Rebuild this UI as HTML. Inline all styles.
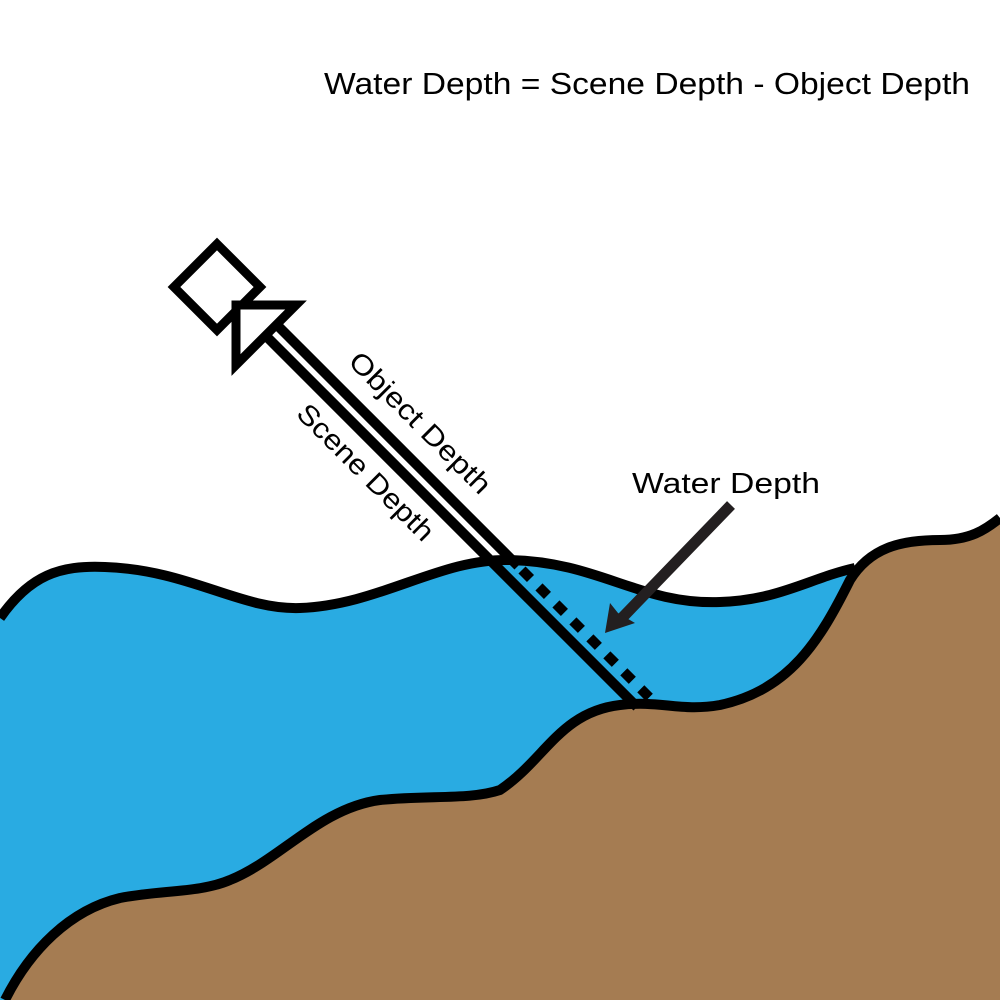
<!DOCTYPE html>
<html><head><style>html,body{margin:0;padding:0;background:#fff}svg{display:block}</style></head>
<body>
<svg width="1000" height="1000" viewBox="0 0 1000 1000" xmlns="http://www.w3.org/2000/svg">
<path d="M0,618 C30,575 60,565 105,567 C190,570 240,610 300,608 C380,605 440,558 510,560 C600,562 640,605 720,602 C780,600 810,578 855,568 L850,580 C820,640 790,690 720,705 C680,712 660,700 620,705 C560,712 545,760 500,790 C470,800 430,795 380,800 C320,808 280,860 230,880 C200,893 160,890 120,898 C70,910 30,950 5,1000 L0,1000 Z" fill="#29abe2"/>
<path d="M5,1000 C30,950 70,910 120,898 C160,890 200,893 230,880 C280,860 320,808 380,800 C430,795 470,800 500,790 C545,760 560,712 620,705 C660,700 680,712 720,705 C790,690 820,640 850,580 C870,548 900,540 940,540 C970,540 985,530 1000,518 L1000,1000 Z" fill="#a57c52"/>
<g fill="none" stroke="#000" stroke-width="10" stroke-linejoin="round">
<path d="M0,618 C30,575 60,565 105,567 C190,570 240,610 300,608 C380,605 440,558 510,560 C600,562 640,605 720,602 C780,600 810,578 855,568"/>
<path d="M5,1000 C30,950 70,910 120,898 C160,890 200,893 230,880 C280,860 320,808 380,800 C430,795 470,800 500,790 C545,760 560,712 620,705 C660,700 680,712 720,705 C790,690 820,640 850,580 C870,548 900,540 940,540 C970,540 985,530 1000,518"/>
</g>
<line x1="262" y1="332" x2="637" y2="707" stroke="#000" stroke-width="10"/>
<line x1="276" y1="324" x2="518" y2="566" stroke="#000" stroke-width="10"/>
<line x1="522" y1="570" x2="657" y2="705" stroke="#000" stroke-width="10" stroke-dasharray="12 12"/>
<path d="M217,244 L260,287 L217,330 L174,287 Z" fill="#fff" stroke="#000" stroke-width="9"/>
<path d="M236,305 L296,305 L236,365 Z" fill="#fff" stroke="#000" stroke-width="9"/>
<line x1="731" y1="505" x2="620" y2="620" stroke="#231f20" stroke-width="11"/>
<path d="M605,633 L610,603 L618,613 L635,623 Z" fill="#231f20"/>
<g font-family="Liberation Sans, sans-serif" fill="#000">
<text x="324" y="94" font-size="31" textLength="646" lengthAdjust="spacingAndGlyphs">Water Depth = Scene Depth - Object Depth</text>
<text x="632" y="493" font-size="29" textLength="188" lengthAdjust="spacingAndGlyphs">Water Depth</text>
<text transform="translate(347,363) rotate(45)" font-size="28" textLength="188" lengthAdjust="spacingAndGlyphs">Object Depth</text>
<text transform="translate(295,415) rotate(45)" font-size="28" textLength="181" lengthAdjust="spacingAndGlyphs">Scene Depth</text>
</g>
</svg>
</body></html>
